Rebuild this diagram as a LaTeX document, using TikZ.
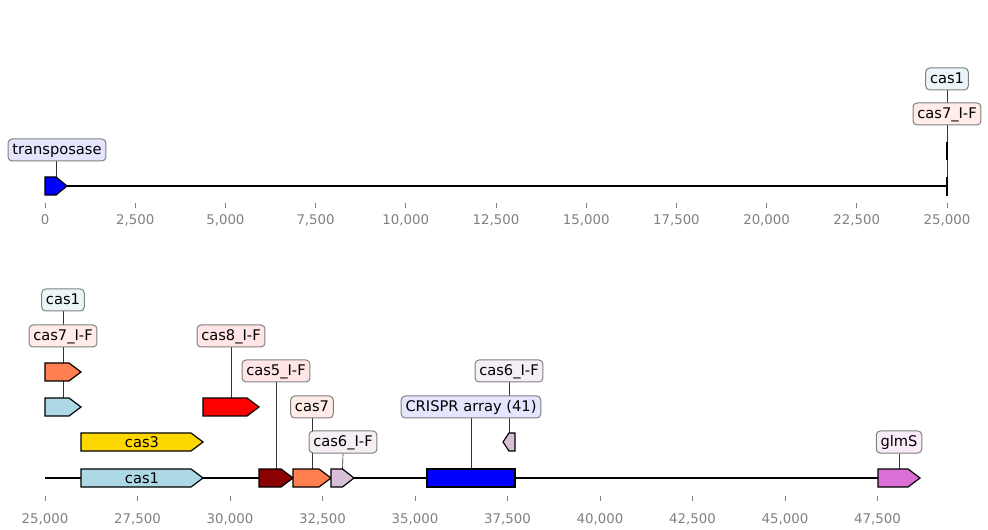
\documentclass[tikz,border=0pt]{standalone}
\usepackage{fontspec}
\setmainfont{DejaVu Sans}
\definecolor{clightblue}{RGB}{173,216,230}
\definecolor{cgold}{RGB}{255,215,0}
\definecolor{ccoral}{RGB}{255,127,80}
\definecolor{cred}{RGB}{255,0,0}
\definecolor{cdarkred}{RGB}{139,0,0}
\definecolor{cthistle}{RGB}{216,191,216}
\definecolor{cblue}{RGB}{0,0,255}
\definecolor{corchid}{RGB}{218,112,214}
\definecolor{llightblue}{RGB}{235,246,249}
\definecolor{lcoral}{RGB}{255,236,230}
\definecolor{lred}{RGB}{255,229,229}
\definecolor{lthistle}{RGB}{245,239,245}
\definecolor{lblue}{RGB}{229,229,255}
\definecolor{lorchid}{RGB}{250,235,249}
\definecolor{tickgray}{RGB}{128,128,128}
\pgfdeclarelayer{bg}
\pgfsetlayers{bg,main}
\tikzset{
  feat/.style={draw=black, line width=0.9pt},
  lbl/.style={draw=tickgray, rounded corners=3pt, line width=0.75pt, font=\fontsize{11}{13}\selectfont,
    inner xsep=3.2pt, inner ysep=0pt, minimum height=16.5pt, text height=8.6pt, text depth=2.4pt},
  conn/.style={draw=black!80, line width=0.5pt},
  seqline/.style={draw=black, line width=1.3pt},
  tickmark/.style={draw=tickgray, line width=0.6pt},
  ticklbl/.style={text=tickgray, font=\fontsize{10}{12}\selectfont, inner sep=0pt},
}
\newcommand{\featR}[5]{%
  \pgfmathsetmacro\hl{min(12,(#3-#2)/2)}%
  \draw[feat, fill=#5] (#2,#4-9) -- (#3-\hl,#4-9) -- (#3,#4) -- (#3-\hl,#4+9) -- (#2,#4+9) -- cycle;
  \coordinate (#1) at ({(#2+#3)/2},#4-9);}
\newcommand{\featL}[5]{%
  \pgfmathsetmacro\hl{min(12,(#3-#2)/2)}%
  \draw[feat, fill=#5] (#3,#4-9) -- (#2+\hl,#4-9) -- (#2,#4) -- (#2+\hl,#4+9) -- (#3,#4+9) -- cycle;
  \coordinate (#1) at ({(#2+#3)/2},#4-9);}
\begin{document}
\begin{tikzpicture}[x=0.75pt,y=-0.75pt]
\useasboundingbox (0,0) rectangle (988,530);
% ---------- top panel ----------
\coordinate (t0) at (45,186);
\coordinate (t1) at (947,186);
\draw[seqline] (t0) -- (t1);
\foreach \i/\t in {0/0,1/{2,500},2/{5,000},3/{7,500},4/{10,000},5/{12,500},6/{15,000},7/{17,500},8/{20,000},9/{22,500},10/{25,000}}{
  \draw[tickmark] (45+\i*90.2,203) -- (45+\i*90.2,208);
  \node[ticklbl] (tt\i) at (45+\i*90.2,220) {\t};
}
\featR{ftrans}{45}{67}{186}{cblue}
\draw[black, line width=1.3pt] (947,177) -- (947,196);
\coordinate (fc1top) at (947,177);
\draw[black, line width=1.3pt] (947,142) -- (947,160);
\coordinate (fc7top) at (947,142);
\node[lbl, fill=lblue] (ltrans) at (57,150) {transposase};
\node[lbl, fill=lcoral] (lc7top) at (947,114) {cas7\_I-F};
\node[lbl, fill=llightblue] (lc1top) at (947,79) {cas1};
% ---------- bottom panel ----------
\coordinate (b0) at (45,478);
\coordinate (b1) at (920,478);
\draw[seqline] (b0) -- (b1);
\foreach \i/\t in {0/{25,000},1/{27,500},2/{30,000},3/{32,500},4/{35,000},5/{37,500},6/{40,000},7/{42,500},8/{45,000},9/{47,500}}{
  \draw[tickmark] (45+\i*92.5,496) -- (45+\i*92.5,501);
  \node[ticklbl] (bt\i) at (45+\i*92.5,519) {\t};
}
\featR{fcas1}{81}{203}{478}{clightblue}
\node[font=\fontsize{11}{13}\selectfont, inner sep=0pt] (tcas1) at (142,478) {cas1};
\featR{fcas3}{81}{203}{442}{cgold}
\node[font=\fontsize{11}{13}\selectfont, inner sep=0pt] (tcas3) at (142,442) {cas3};
\featR{fsmallblue}{45}{81}{407}{clightblue}
\featR{fsmallcoral}{45}{81}{372}{ccoral}
\featR{fcas8}{203}{259}{407}{cred}
\featR{fcas5}{259}{293}{478}{cdarkred}
\featR{fcas7}{293}{331}{478}{ccoral}
\featR{fcas6a}{331}{354}{478}{cthistle}
\draw[feat, fill=cblue] (427,469) rectangle (515,487);
\coordinate (fcrispr) at (471,469);
\featL{fcas6b}{503}{515}{442}{cthistle}
\featR{fglms}{878}{920}{478}{corchid}
\node[lbl, fill=llightblue] (lcas1) at (63,300) {cas1};
\node[lbl, fill=lcoral] (lcas7if) at (63,336) {cas7\_I-F};
\node[lbl, fill=lred] (lcas8) at (231,336) {cas8\_I-F};
\node[lbl, fill=lred] (lcas5) at (276,371) {cas5\_I-F};
\node[lbl, fill=lcoral] (lcas7) at (312,407) {cas7};
\node[lbl, fill=lthistle] (lcas6a) at (343,442) {cas6\_I-F};
\node[lbl, fill=lthistle] (lcas6b) at (509,371) {cas6\_I-F};
\node[lbl, fill=lblue] (lcrispr) at (471,407) {CRISPR array (41)};
\node[lbl, fill=lorchid] (lglms) at (899,442) {glmS};
% ---------- connectors ----------
\begin{pgfonlayer}{bg}
\draw[conn] (ltrans.south -| ftrans) -- (ftrans);
\draw[conn] (lc1top.south) -- (fc1top);
\draw[conn] (lc7top.south) -- (fc7top);
\draw[conn] (lcas1.south) -- (fsmallblue);
\draw[conn] (lcas7if.south) -- (fsmallcoral);
\draw[conn] (lcas8.south) -- (fcas8);
\draw[conn] (lcas5.south) -- (fcas5);
\draw[conn] (lcas7.south) -- (fcas7);
\draw[conn] (lcas6a.south) -- (fcas6a);
\draw[conn] (lcas6b.south) -- (fcas6b);
\draw[conn] (lcrispr.south) -- (fcrispr);
\draw[conn] (lglms.south) -- (fglms);
\end{pgfonlayer}
\end{tikzpicture}
\end{document}
